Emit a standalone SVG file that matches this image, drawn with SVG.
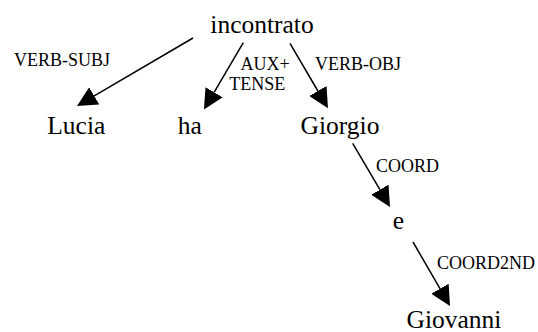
<svg xmlns="http://www.w3.org/2000/svg" width="538" height="332" viewBox="0 0 538 332">
<style>
.node{font-family:"Liberation Serif","Times New Roman",serif;font-size:25.5px;fill:#000;text-anchor:middle}
.lbl{font-family:"Liberation Serif","Times New Roman",serif;font-size:18px;fill:#000}
.edge{stroke:#000;stroke-width:1.5;fill:none;marker-end:url(#arr)}
</style>
<defs>
<marker id="arr" markerUnits="userSpaceOnUse" markerWidth="20" markerHeight="20" viewBox="0 0 20 20" refX="0" refY="10" orient="auto">
<path d="M0,0 L20,10 L0,20 z" fill="#000"/>
</marker>
</defs>
<rect width="538" height="332" fill="#fff"/>
<g id="edges">
<path class="edge" d="M193,38 L94.25,95.9"/>
<path class="edge" d="M243.3,42.7 L214.1,92.3"/>
<path class="edge" d="M290,43.3 L317.9,91"/>
<path class="edge" d="M352.7,143.3 L379.9,189.7"/>
<path class="edge" d="M413,242 L440,288.7"/>
<text class="lbl" x="14" y="66">VERB-SUBJ</text>
<text class="lbl" x="240.5" y="70">AUX+</text>
<text class="lbl" x="229.3" y="90">TENSE</text>
<text class="lbl" x="315" y="70">VERB-OBJ</text>
<text class="lbl" x="376" y="171.5">COORD</text>
<text class="lbl" x="437" y="269">COORD2ND</text>
</g>
<g id="n-incontrato"><text class="node" x="262" y="33.3">incontrato</text></g>
<g id="n-lucia"><text class="node" x="76.3" y="133.5">Lucia</text></g>
<g id="n-ha"><text class="node" x="189.7" y="133.5">ha</text></g>
<g id="n-giorgio"><text class="node" x="340" y="134">Giorgio</text></g>
<g id="n-e"><text class="node" x="398.5" y="229">e</text></g>
<g id="n-giovanni"><text class="node" x="454" y="328">Giovanni</text></g>
</svg>
